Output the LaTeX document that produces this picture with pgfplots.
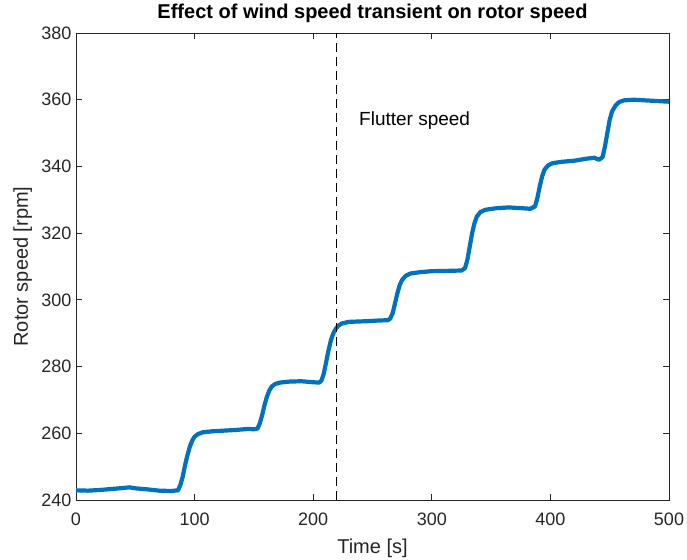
\documentclass[border=0pt]{standalone}
\usepackage{pgfplots}
\pgfplotsset{compat=1.18}
\usepackage{fontspec}
\setmainfont{Liberation Sans}
\definecolor{mblue}{RGB}{0,114,189}
\definecolor{axgray}{RGB}{38,38,38}
\begin{document}
\begin{tikzpicture}
\begin{axis}[
  width=593bp, height=467bp, scale only axis,
  xmin=0, xmax=500, ymin=240, ymax=380,
  xtick={0,100,...,500}, ytick={240,260,...,380},
  tick align=inside, major tick length=6bp,
  axis line style={axgray, line width=0.8bp},
  every tick/.style={axgray, line width=0.8bp},
  tick label style={font=\fontsize{18bp}{21bp}\selectfont, text=axgray},
  xticklabel style={yshift=-9bp},
  yticklabel style={xshift=-1bp},
  /pgf/number format/assume math mode=true,
  /pgf/number format/1000 sep={},
  title={Effect of wind speed transient on rotor speed},
  title style={font=\bfseries\fontsize{20bp}{24bp}\selectfont, at={(axis description cs:0.5,1.0193)}, anchor=base},
  xlabel={Time [s]},
  xlabel style={font=\fontsize{20bp}{24bp}\selectfont, text=axgray, at={(axis description cs:0.5,-0.1156)}, anchor=base},
  ylabel={Rotor speed [rpm]},
  ylabel style={font=\fontsize{20bp}{24bp}\selectfont, text=axgray, at={(axis description cs:-0.081,0.5)}, anchor=base},
  clip=true,
]
\addplot[mblue, line width=4.2bp, line join=round] coordinates {
(0,242.9) (10,242.8) (20,243.0) (30,243.3) (40,243.6) (45,243.8) (50,243.5) (60,243.2) (70,242.8) (80,242.7) (86,242.9)
(88,244.5) (90,247) (92,250.5) (94,253.5) (96,256) (98,257.8) (100,259) (103,259.8) (107,260.3) (115,260.6) (125,260.8) (135,261.0) (145,261.3) (150,261.2) (153,261.4)
(155,263) (157,265.5) (159,268.5) (161,271) (163,272.8) (165,274) (168,274.8) (172,275.2) (180,275.5) (190,275.6) (200,275.3) (205,275.2) (207,275.8)
(209,278) (211,281.5) (213,285) (215,288) (217,290) (219,291.3) (221,292.2) (224,292.9) (230,293.4) (245,293.6) (255,293.8) (263,293.9) (265,294.4)
(267,296) (269,299) (271,302) (273,304.5) (275,306) (278,307.2) (282,307.9) (290,308.3) (300,308.6) (315,308.7) (325,308.8) (328,309.5)
(330,312) (332,316) (334,320) (336,323) (338,325) (341,326.3) (345,327) (355,327.5) (365,327.7) (375,327.5) (383,327.3) (387,328)
(389,330.5) (391,334) (393,337) (395,339) (398,340.3) (402,341) (410,341.4) (420,341.7) (430,342.3) (437,342.6) (441,342) (444,342.8)
(446,346) (448,350) (450,354) (452,356.5) (455,358.3) (458,359.3) (462,359.8) (470,360) (480,359.8) (490,359.6) (500,359.4)
};
\addplot[black, line width=1bp, dash pattern=on 9bp off 5bp] coordinates {(220,240) (220,380)};
\node[anchor=west, inner sep=0pt, font=\fontsize{19bp}{22bp}\selectfont] at (axis cs:238.6,353.6) {Flutter speed};
\end{axis}
\pgfresetboundingbox
\path[use as bounding box] ([xshift=-76bp,yshift=-60bp]current axis.south west) rectangle ([xshift=18bp,yshift=33bp]current axis.north east);
\end{tikzpicture}
\end{document}
